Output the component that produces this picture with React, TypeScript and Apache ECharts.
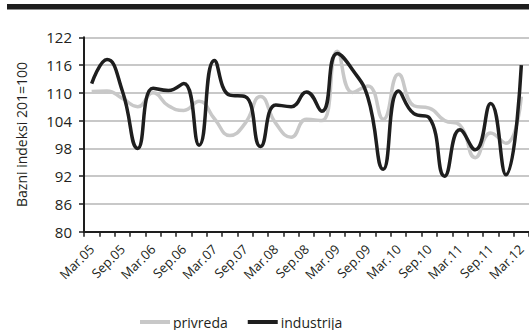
import React, { useEffect, useRef } from "react";
import * as echarts from "echarts";

const quarters = ["Mar", "Jun", "Sep", "Dec"];
const years = ["05", "06", "07", "08", "09", "10", "11", "12"];
const categories: string[] = [];
years.forEach((y) => quarters.forEach((q) => categories.push(q + "." + y)));
categories.splice(29);

const privreda = [
  110.3, 110.4, 108.8, 107, 110, 107.2, 106.2, 108.2, 104.4, 100.8,
  103.4, 109.2, 103.4, 100.4, 104.3, 104, 119, 110.1, 111.5, 104.3,
  114, 107.2, 106.7, 104, 103, 96, 101.3, 99.1, 109.2,
];
const industrija = [
  112, 117.2, 110.4, 98, 111, 110.5, 112, 98.7, 117, 109.5,
  109.2, 98.4, 107.4, 107, 110.2, 106, 118.5, 115, 109, 93.5,
  110.4, 105.5, 104.6, 92, 102, 97.7, 107.7, 92.3, 116,
];
const yTicks = { min: 80, max: 122, interval: 6 };
const seriesNames = ["privreda", "industrija"];
const yName = "Bazni indeksi 201=100";

export default function App() {
  const ref = useRef<HTMLDivElement>(null);
  useEffect(() => {
    if (!ref.current) return;
    const chart = echarts.init(ref.current, undefined, { renderer: "svg" });
    const font = "'Open Sans', 'DejaVu Sans', sans-serif";
    chart.setOption({
      animation: false,
      backgroundColor: "#ffffff",
      textStyle: { fontFamily: font },
      graphic: [
        {
          type: "rect",
          shape: { x: 7, y: 4, width: 522, height: 5.5 },
          style: { fill: "#1e1e1e" },
        },
      ],
      grid: { left: 84, right: 0, top: 37.3, bottom: 98.3, containLabel: false },
      legend: {
        left: 135,
        top: 310,
        itemWidth: 30,
        itemHeight: 4,
        itemGap: 20,
        icon: "rect",
        textStyle: { fontSize: 14, color: "#231f20", fontFamily: font, padding: [0, 0, 0, -2] },
        data: seriesNames,
      },
      xAxis: {
        type: "category",
        data: categories,
        boundaryGap: true,
        axisLine: { lineStyle: { color: "#1e1e1e", width: 2 } },
        axisTick: { show: true, interval: 0, length: 5, lineStyle: { color: "#1e1e1e", width: 1.5 } },
        axisLabel: {
          interval: 1,
          rotate: 45,
          fontSize: 13,
          color: "#231f20",
          margin: 15,
          fontFamily: font,
        },
      },
      yAxis: {
        type: "value",
        min: yTicks.min,
        max: yTicks.max,
        interval: yTicks.interval,
        name: yName,
        nameLocation: "middle",
        nameGap: 56,
        nameTextStyle: { fontSize: 14, color: "#231f20", fontFamily: font },
        axisLine: { show: true, lineStyle: { color: "#1e1e1e", width: 2 } },
        axisTick: { show: true, length: 5, lineStyle: { color: "#1e1e1e", width: 1.5 } },
        axisLabel: { fontSize: 15, color: "#231f20", margin: 12, fontFamily: font },
        splitLine: { show: true, lineStyle: { color: "#c8c8c8", width: 2 } },
      },
      series: [
        {
          name: seriesNames[0],
          type: "line",
          data: privreda,
          smooth: 0.5,
          showSymbol: false,
          symbol: "none",
          itemStyle: { color: "#c8c8c8" },
          lineStyle: { color: "#c8c8c8", width: 3.5 },
        },
        {
          name: seriesNames[1],
          type: "line",
          data: industrija,
          smooth: 0.5,
          showSymbol: false,
          symbol: "none",
          itemStyle: { color: "#1e1e1e" },
          lineStyle: { color: "#1e1e1e", width: 3.5 },
        },
      ],
    });
    return () => chart.dispose();
  }, []);
  return (
    <div
      ref={ref}
      style={{ position: "fixed", left: 0, top: 0, width: 529, height: 330 }}
    />
  );
}
